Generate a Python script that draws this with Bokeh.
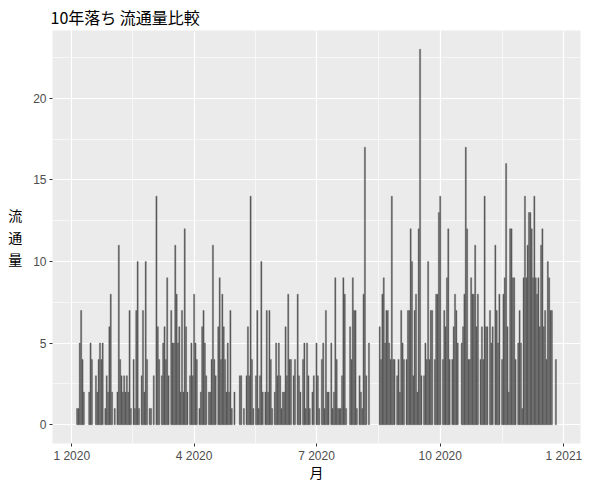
from bokeh.plotting import figure
from bokeh.models import FixedTicker
from bokeh.embed import file_html
from bokeh.resources import INLINE

# Day offsets from 2020-01-01 and daily volumes, by quarter
q1_days = [4, 5, 6, 7, 8, 9, 13, 14, 15, 18, 19, 20, 21, 22, 23, 25, 26, 27, 28, 29, 30, 32,
           34, 35, 36, 37, 38, 39, 40, 41, 42, 43, 44, 46, 47, 48, 49, 50, 52, 53, 54, 55, 56,
           58, 59, 61, 63, 64, 65, 67, 68, 69, 70, 71, 72, 74, 75, 76, 77, 78, 79, 80, 81, 82,
           83, 84, 85, 86, 88, 89, 90]
q1_vol = [1, 1, 5, 7, 4, 2, 2, 5, 4, 3, 2, 4, 5, 4, 5, 1, 3, 2, 6, 8, 2, 1,
          2, 11, 4, 3, 2, 3, 2, 3, 2, 7, 1, 4, 1, 7, 10, 1, 3, 7, 2, 10, 4,
          1, 1, 3, 14, 6, 4, 3, 5, 6, 4, 9, 3, 7, 5, 5, 11, 8, 5, 6, 2, 7,
          2, 12, 6, 2, 3, 5, 3]

q2_days = [91, 92, 93, 95, 96, 97, 98, 99, 100, 102, 103, 104, 105, 106, 107, 109, 110, 111,
           112, 113, 114, 115, 116, 117, 118, 119, 121, 125, 126, 128, 130, 131, 132, 133, 134,
           135, 137, 138, 139, 140, 141, 142, 144, 145, 146, 147, 148, 149, 151, 152, 153, 154,
           155, 156, 157, 158, 159, 160, 161, 162, 163, 165, 166, 168, 169, 170, 172, 173, 174,
           175, 176, 177, 179, 180]
q2_vol = [8, 5, 4, 1, 2, 6, 7, 5, 3, 2, 2, 4, 11, 4, 3, 6, 9, 4,
          8, 6, 4, 2, 5, 2, 7, 1, 2, 3, 3, 1, 3, 6, 3, 14, 4,
          1, 3, 7, 1, 3, 10, 2, 2, 7, 2, 7, 4, 1, 2, 5, 3, 5,
          3, 1, 2, 2, 6, 3, 8, 4, 4, 3, 4, 8, 3, 2, 4, 5, 1,
          5, 3, 1, 2, 3]

q3_days = [182, 183, 184, 186, 187, 188, 189, 190, 191, 193, 194, 195, 196, 197, 198, 199, 200,
           201, 202, 203, 204, 207, 208, 209, 210, 211, 212, 214, 215, 216, 217, 218, 219, 221,
           229, 230, 231, 232, 233, 234, 235, 236, 237, 238, 239, 240, 242, 243, 244, 245, 246,
           247, 249, 250, 251, 252, 253, 254, 255, 256, 257, 258, 259, 260, 262, 263, 264, 265,
           266, 267, 268, 270, 271, 272, 273]
q3_vol = [5, 3, 1, 4, 5, 1, 7, 2, 2, 5, 1, 2, 9, 4, 1, 1, 1,
          3, 9, 8, 1, 6, 4, 9, 7, 7, 1, 3, 2, 1, 8, 17, 3, 5,
          6, 4, 8, 9, 5, 7, 7, 5, 4, 14, 4, 4, 3, 4, 2, 7, 5,
          4, 4, 7, 7, 12, 10, 3, 7, 8, 2, 12, 23, 3, 3, 5, 4, 10,
          4, 7, 7, 4, 8, 8, 13]

q4_days = [274, 276, 277, 278, 279, 280, 281, 283, 284, 285, 286, 287, 290, 291, 292, 293, 294,
           295, 296, 297, 298, 299, 300, 301, 302, 304, 305, 306, 307, 308, 309, 311, 312, 313,
           315, 316, 317, 318, 320, 321, 322, 323, 324, 325, 326, 327, 328, 329, 330, 332, 333,
           334, 335, 336, 337, 338, 339, 340, 341, 342, 343, 344, 345, 346, 347, 348, 349, 350,
           351, 352, 353, 354, 355, 356, 357, 360]
q4_vol = [14, 4, 7, 6, 9, 12, 4, 4, 6, 8, 7, 5, 5, 6, 8, 17, 12,
          4, 4, 9, 8, 8, 11, 6, 8, 4, 6, 4, 14, 6, 6, 7, 5, 6,
          11, 7, 5, 8, 4, 8, 9, 16, 6, 2, 12, 12, 9, 9, 4, 5, 7,
          5, 1, 9, 14, 9, 11, 13, 13, 12, 9, 14, 9, 8, 9, 6, 11, 12,
          6, 7, 4, 10, 9, 7, 7, 4]

x_tick_days = [0, 91, 182, 274, 366]
x_tick_labels = ["1 2020", "4 2020", "7 2020", "10 2020", "1 2021"]
x_minor_days = [45.5, 136.5, 228, 320]
y_ticks = [0, 5, 10, 15, 20]
y_minor = [2.5, 7.5, 12.5, 17.5, 22.5]

title_text = "10年落ち 流通量比較"
x_label = "月"
y_label = "流\n通\n量"

days = q1_days + q2_days + q3_days + q4_days
vols = q1_vol + q2_vol + q3_vol + q4_vol

JP = "Noto Sans CJK JP"
NUM = "Liberation Sans"

p = figure(width=584, height=484, output_backend="svg", toolbar_location=None,
           x_range=(-14.3, 378.3), y_range=(-1.15, 24.15),
           min_border_left=52, min_border_right=4, min_border_top=0, min_border_bottom=0,
           title=title_text)

p.vbar(x=days, top=vols, width=0.9, fill_color="#595959",
       line_color="#595959", line_width=0.35)

p.background_fill_color = "#EBEBEB"
p.border_fill_color = "white"
p.outline_line_color = None

p.title.text_font = JP
p.title.text_font_size = "16px"
p.title.text_font_style = "normal"
p.title.text_color = "black"
p.title.align = "left"
p.title.standoff = 4
p.title.offset = -2

p.xaxis.ticker = FixedTicker(ticks=x_tick_days, minor_ticks=x_minor_days)
p.xaxis.major_label_overrides = {d: s for d, s in zip(x_tick_days, x_tick_labels)}
p.yaxis.ticker = FixedTicker(ticks=y_ticks, minor_ticks=y_minor)

for ax in (p.xaxis[0], p.yaxis[0]):
    ax.axis_line_color = None
    ax.major_tick_line_color = "#333333"
    ax.major_tick_line_width = 1
    ax.major_tick_in = 0
    ax.major_tick_out = 3
    ax.minor_tick_line_color = None
    ax.major_label_text_color = "#4D4D4D"
    ax.major_label_text_font = NUM
    ax.major_label_text_font_size = "12px"
    ax.major_label_standoff = 2
    ax.axis_label_text_font = JP
    ax.axis_label_text_font_size = "14px"
    ax.axis_label_text_font_style = "normal"
    ax.axis_label_text_color = "black"

p.xaxis.major_label_standoff = 1
p.xaxis.axis_label = x_label
p.xaxis.axis_label_standoff = -4
p.yaxis.axis_label = y_label
p.yaxis.axis_label_orientation = "horizontal"
p.yaxis.axis_label_text_line_height = 1.1
p.yaxis.axis_label_standoff = 8

for g in (p.xgrid[0], p.ygrid[0]):
    g.grid_line_color = "white"
    g.grid_line_width = 1.2
    g.minor_grid_line_color = "white"
    g.minor_grid_line_width = 0.6

open("out.html", "w").write(file_html(p, INLINE))
